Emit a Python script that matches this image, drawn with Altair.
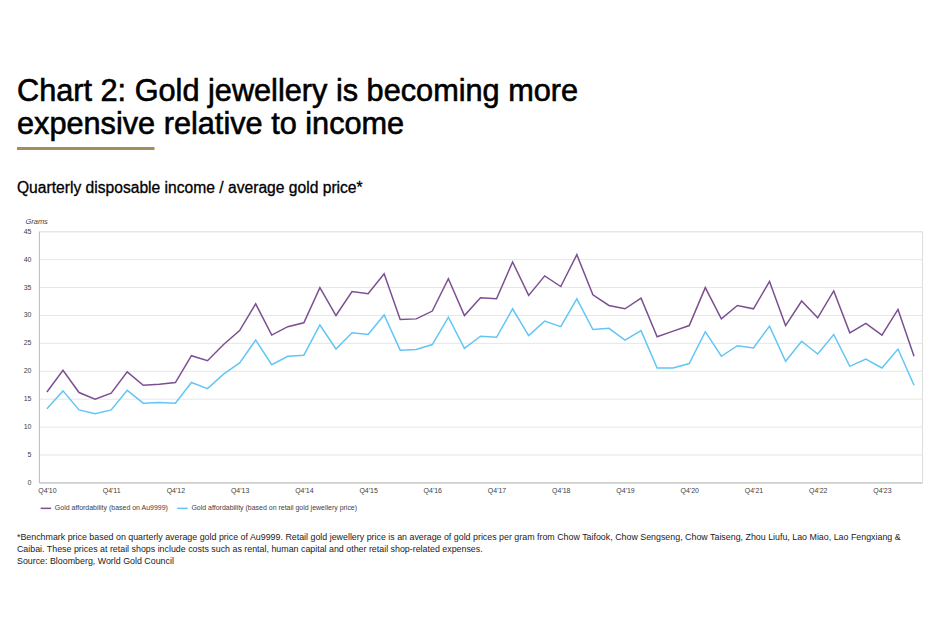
import altair as alt
import pandas as pd

# Quarter labels Q4'10 ... Q2'24
quarters = ["Q4'10"] + [f"Q{q}'{y:02d}" for y in range(11, 24) for q in range(1, 5)] + ["Q1'24", "Q2'24"]
tick_labels = [f"Q4'{y:02d}" for y in range(10, 24)]

au9999 = [16.2, 20.1, 16.1, 14.9, 16.0,
          19.8, 17.4, 17.6, 17.9,
          22.7, 21.8, 24.7, 27.2,
          32.0, 26.4, 27.9, 28.6,
          34.9, 29.9, 34.2, 33.8,
          37.4, 29.2, 29.3, 30.7,
          36.5, 29.9, 33.1, 32.9,
          39.5, 33.5, 37.0, 35.1,
          40.8, 33.6, 31.7, 31.1,
          33.0, 26.1, 27.1, 28.1,
          34.9, 29.3, 31.7, 31.1,
          36.0, 28.1, 32.5, 29.5,
          34.3, 26.8, 28.5, 26.4,
          31.0, 22.6]

retail = [13.2, 16.4, 13.0, 12.3, 13.0,
          16.5, 14.2, 14.3, 14.2,
          17.9, 16.8, 19.4, 21.4,
          25.5, 21.1, 22.6, 22.8,
          28.2, 23.9, 26.8, 26.5,
          30.0, 23.7, 23.8, 24.7,
          29.6, 24.0, 26.2, 26.0,
          31.1, 26.3, 28.9, 27.9,
          32.9, 27.4, 27.6, 25.5,
          27.2, 20.5, 20.5, 21.3,
          27.0, 22.6, 24.5, 24.1,
          28.0, 21.7, 25.3, 23.0,
          26.5, 20.8, 22.1, 20.5,
          23.9, 17.4]

series_names = ["Gold affordability (based on Au9999)",
                "Gold affordability (based on retail gold jewellery price)"]
series_colors = ["#7B4F91", "#62C6F5"]

title_lines = ["Chart 2: Gold jewellery is becoming more", "expensive relative to income"]
subtitle = "Quarterly disposable income / average gold price*"
footnote = [
    "*Benchmark price based on quarterly average gold price of Au9999. Retail gold jewellery price is an average of gold prices per gram from Chow Taifook, Chow Sengseng, Chow Taiseng, Zhou Liufu, Lao Miao, Lao Fengxiang &",
    "Caibai. These prices at retail shops include costs such as rental, human capital and other retail shop-related expenses.",
    "Source: Bloomberg, World Gold Council",
]

rows = []
for i, q in enumerate(quarters):
    rows.append({"quarter": q, "value": au9999[i], "series": series_names[0], "order": i})
    rows.append({"quarter": q, "value": retail[i], "series": series_names[1], "order": i})
df = pd.DataFrame(rows)

FONT = "Liberation Sans"

lines = alt.Chart(df).mark_line(strokeWidth=1.5, clip=False).encode(
    x=alt.X("quarter:O", sort=quarters,
            scale=alt.Scale(type="point", padding=0.5),
            axis=alt.Axis(values=tick_labels, labelAngle=0, ticks=False, title=None,
                          domainColor="#BFBFBF", labelFontSize=7, labelColor="#404040",
                          labelPadding=4, labelFont=FONT)),
    y=alt.Y("value:Q", scale=alt.Scale(domain=[0, 45], nice=False),
            axis=alt.Axis(values=list(range(0, 46, 5)), ticks=False, title="Grams",
                          titleAngle=0, titleAlign="left", titleX=-14, titleY=-6,
                          titleFontStyle="italic", titleFontWeight="normal",
                          titleFontSize=7.5, titleColor="#404040", titleFont=FONT,
                          labelFontSize=7, labelColor="#404040", labelPadding=8,
                          labelFont=FONT, domainColor="#BFBFBF",
                          gridColor="#E6E6E6", gridWidth=1)),
    color=alt.Color("series:N", scale=alt.Scale(domain=series_names, range=series_colors),
                    legend=alt.Legend(orient="none", legendX=1, legendY=272,
                                      direction="horizontal", title=None,
                                      symbolType="stroke", symbolSize=110,
                                      symbolStrokeWidth=1.5, labelFontSize=7,
                                      labelFont=FONT, labelColor="#404040",
                                      labelLimit=0, columnPadding=5, labelOffset=3)),
    order="order:Q",
)


def text_layer(txt, x, y, size, color="#000000", stroke_w=0.0):
    mk = dict(align="left", baseline="alphabetic", fontSize=size, font=FONT,
              color=color, fontWeight="normal")
    if stroke_w > 0:
        mk.update(stroke=color, strokeWidth=stroke_w)
    return alt.Chart(pd.DataFrame({"t": [txt]})).mark_text(**mk).encode(
        x=alt.value(x), y=alt.value(y), text="t:N")


layers = [lines]
layers.append(text_layer(title_lines[0], -22, -131, 30.8, stroke_w=0.6))
layers.append(text_layer(title_lines[1], -22, -98, 30.8, stroke_w=0.6))
layers.append(text_layer(subtitle, -22, -38, 15.7, stroke_w=0.3))
for k, line in enumerate(footnote):
    layers.append(text_layer(line, -22, 310 + 12 * k, 8.9, color="#1A1A1A"))

rule = alt.Chart(pd.DataFrame({"a": [0]})).mark_rule(color="#A08F5E", strokeWidth=3).encode(
    x=alt.value(-22), x2=alt.value(116), y=alt.value(-83))
layers.append(rule)

chart = alt.layer(*layers).properties(
    width=886, height=252,
    autosize=alt.AutoSizeParams(type="none"),
    padding={"left": 31, "top": 223, "right": 20, "bottom": 120},
).configure_view(stroke=None).configure(font=FONT)

chart.save("out.html", embed_options={"renderer": "svg", "actions": False})
